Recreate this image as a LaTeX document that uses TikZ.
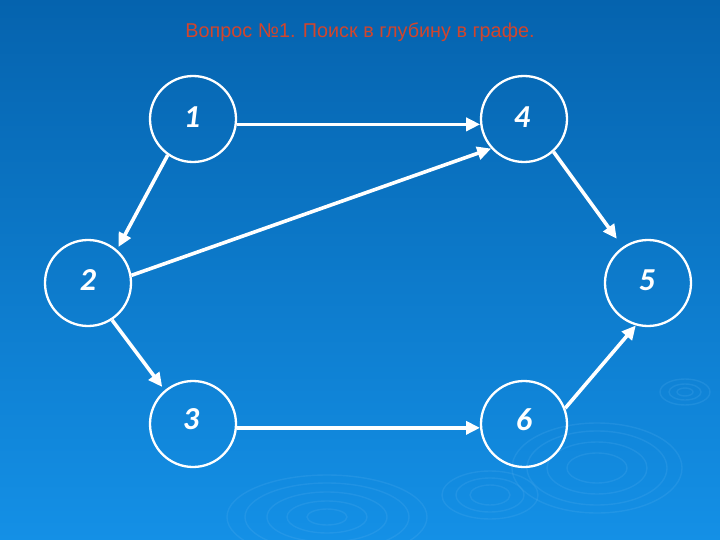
\documentclass[tikz,border=0pt]{standalone}
\usepackage{fontspec}
\setmainfont{Liberation Sans}
\newfontfamily\numfont{Carlito}
\usetikzlibrary{arrows.meta}
\definecolor{bgtop}{HTML}{0563AE}
\definecolor{bgmid}{HTML}{066EBC}
\definecolor{bgbot}{HTML}{1490E6}
\definecolor{titlered}{HTML}{D2452C}
\definecolor{ripplecol}{HTML}{5AB2F0}
\begin{document}
\begin{tikzpicture}[x=1pt,y=-1pt,
  vertex/.style={circle,draw=white,line width=2.3pt,minimum size=86pt,inner sep=0pt},
  num/.style={font=\numfont\bfseries\itshape\fontsize{32}{32}\selectfont,text=white,inner sep=0pt},
  edge/.style={draw=white,line width=3.6pt,-{Triangle[length=14pt,width=13pt]}},
  ripple/.style={draw=ripplecol,line width=1.4pt,opacity=0.2}]
\shade[top color=bgtop, middle color=bgmid, bottom color=bgbot] (0,0) rectangle (720,540);
\useasboundingbox (0,0) rectangle (720,540);
% ripples
\foreach \a/\b in {100/42,82/34,60/25,40/16,20/8}
  \draw[ripple] (327,517) ellipse [x radius=\a pt, y radius=\b pt];
\foreach \a/\b in {48/24,34/17,20/10}
  \draw[ripple] (490,495) ellipse [x radius=\a pt, y radius=\b pt];
\foreach \a/\b in {85/45,70/37,50/26,30/15}
  \draw[ripple] (597,468) ellipse [x radius=\a pt, y radius=\b pt];
\foreach \a/\b in {25/13,16/8,8/4}
  \draw[ripple] (685,392) ellipse [x radius=\a pt, y radius=\b pt];
% title
\node[font=\fontsize{20}{20}\selectfont,text=titlered,xscale=0.99] (title) at (360,32) {Вопрос №1. Поиск в глубину в графе.};
% vertices
\node[vertex] (n1) at (193,119) {};
\node[vertex] (n4) at (524,119) {};
\node[vertex] (n2) at (88,283) {};
\node[vertex] (n5) at (648,283) {};
\node[vertex] (n3) at (193,424) {};
\node[vertex] (n6) at (524,424) {};
\node[num] (t1) at (192,117) {1};
\node[num] (t4) at (522,117) {4};
\node[num] (t2) at (88,280) {2};
\node[num] (t5) at (647,280) {5};
\node[num] (t3) at (191,419) {3};
\node[num] (t6) at (524,420) {6};
% edges
\draw[edge] (n1.-7) -- (n4.187);
\draw[edge, shorten >=3pt] (n1.235) -- (n2.49);
\draw[edge] (n2.10) -- (n4.222);
\draw[edge, shorten >=10pt] (n4.-48) -- (n5.125);
\draw[edge, shorten >=4pt] (n2.-57) -- (n3.130);
\draw[edge] (n3.-5.5) -- (n6.185.5);
\draw[edge] (n6.21.6) -- (n5.254);
\end{tikzpicture}
\end{document}
